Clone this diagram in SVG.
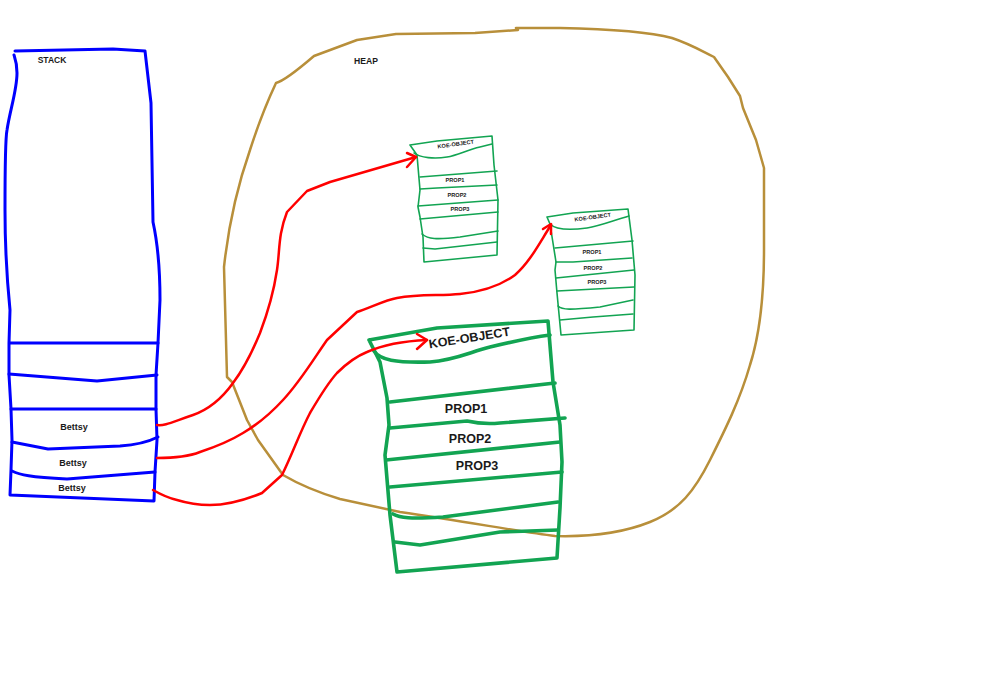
<svg xmlns="http://www.w3.org/2000/svg" width="995" height="673" viewBox="0 0 995 673">
<style>
  .heap{fill:none;stroke:#B88F3A;stroke-width:2.5;stroke-linejoin:round;stroke-linecap:round}
  .stk{fill:none;stroke:#0000FF;stroke-width:3;stroke-linejoin:round;stroke-linecap:round}
  .gs{fill:none;stroke:#12A452;stroke-width:1.6;stroke-linejoin:round;stroke-linecap:round}
  .gb{fill:none;stroke:#12A452;stroke-width:3.6;stroke-linejoin:round;stroke-linecap:round}
  .red{fill:none;stroke:#FF0000;stroke-width:2.5;stroke-linejoin:round;stroke-linecap:round}
  text{font-family:"Liberation Sans",Arial,sans-serif;font-weight:bold;fill:#1a1a1a;text-anchor:middle}
  .t9{font-size:9px}
  .ts{font-size:5.6px}
  .tb{font-size:12.5px}
</style>
<rect width="995" height="673" fill="#ffffff"/>

<g id="heap">
  <path class="heap" d="M276,83 C284,81 300,68 314,56 L357,40 L396,34 L475,33 L518,30 L516,28 L560,28 C610,29 650,32 672,38 C690,44 700,50 714,57 L728,77 L740,96 L743,108 L756,140 L764,168 L764,250 C764,300 758,340 750,365 C740,400 725,430 710,460 C695,490 680,510 650,522 C620,534 590,537 555,536 C520,532 470,522 400,512 L340,499 C320,493 300,485 283,475 L258,440 L247,420 L232,382 L227,377 L224,267 C228,230 236,190 250,150 C258,125 268,100 276,83 Z"/>
  <text class="t9" x="366" y="64" style="font-size:8.6px">HEAP</text>
</g>

<g id="stack">
  <path class="stk" d="M15,51 L113,49 L145,51 L151,103 L153,222 C158,245 160,270 160,300 L158,343 L156,375 L156,409 L157,440 L155,472 L154,501 L10,495 L11,470 L12,440 L11,409 L9,375 L9,343 L10,310 C7,280 5,250 5,210 C5,170 6,135 7,130 C10,110 17,90 17,73 C17,63 15,58 14,55"/>
  <path class="stk" d="M10,343 L158,343"/>
  <path class="stk" d="M9,374 L97,381 L157,375"/>
  <path class="stk" d="M11,409 L156,409"/>
  <path class="stk" d="M12,442 L48,449 L120,446 C135,445 150,441 158,437"/>
  <path class="stk" d="M12,471 C20,475 30,477 67,479 L155,472"/>
  <text class="t9" x="52" y="63" style="font-size:8.5px">STACK</text>
  <text class="t9" x="74" y="430">Bettsy</text>
  <text class="t9" x="73" y="466">Bettsy</text>
  <text class="t9" x="72" y="491">Bettsy</text>
</g>

<g id="obj1">
  <path class="gs" d="M410,145 L437,141 L492,136 L494,165 L498,200 L497,255 L424,262 L423,237 L420,217 L418,207 L420,190 L417,155 L410,145"/>
  <path class="gs" d="M414,153 C420,158 435,159 447,157 C458,155 467,150 480,147 L492,144"/>
  <path class="gs" d="M420,177 L497,171"/>
  <path class="gs" d="M420,189 L437,188 L497,185"/>
  <path class="gs" d="M418,206 L498,200"/>
  <path class="gs" d="M420,219 L498,212"/>
  <path class="gs" d="M422,234 C428,239 436,240 460,237 L498,231"/>
  <path class="gs" d="M423,248 L435,249 L497,242"/>
  <text class="ts" transform="translate(456,146) rotate(-8)">KOE-OBJECT</text>
  <text class="ts" x="455" y="182">PROP1</text>
  <text class="ts" x="457" y="197">PROP2</text>
  <text class="ts" x="460" y="211">PROP3</text>
</g>

<g id="obj2">
  <path class="gs" d="M547,217 L573,213 L628,209 L632,240 L635,275 L634,330 L561,335 L557,293 L555,270 L556,262 L553,243 L550,224 L547,217"/>
  <path class="gs" d="M550,224 C555,229 565,231 587,228 C600,226 612,221 629,216"/>
  <path class="gs" d="M555,248 L633,241"/>
  <path class="gs" d="M556,262 L573,262 L632,258"/>
  <path class="gs" d="M556,278 L634,270"/>
  <path class="gs" d="M557,291 L634,287"/>
  <path class="gs" d="M558,306 C562,310 570,310 600,307 L633,300"/>
  <path class="gs" d="M560,320 L593,317 L633,314"/>
  <text class="ts" transform="translate(593,219) rotate(-8)">KOE-OBJECT</text>
  <text class="ts" x="592" y="254">PROP1</text>
  <text class="ts" x="593" y="270">PROP2</text>
  <text class="ts" x="597" y="284">PROP3</text>
</g>

<g id="obj3">
  <path class="gb" d="M369,340 L437,328 L548,321 L553,382 L560,425 L562,462 L560,508 L557,558 L397,572 L390,515 L385,455 L389,425 L387,398 L380,362 L369,340"/>
  <path class="gb" d="M374,351 C380,360 395,363 430,362 C455,360 470,352 490,347 C515,341 535,337 550,335"/>
  <path class="gb" d="M390,402 L555,383"/>
  <path class="gb" d="M390,428 L467,421 C480,424 490,424 500,423 L565,418"/>
  <path class="gb" d="M386,460 L560,442"/>
  <path class="gb" d="M390,487 L562,472"/>
  <path class="gb" d="M393,514 C400,518 410,519 443,517 L558,502"/>
  <path class="gb" d="M395,542 L420,545 L500,532 L558,530"/>
  <text class="tb" transform="translate(470,342) rotate(-9)">KOE-OBJECT</text>
  <text class="tb" x="466" y="413">PROP1</text>
  <text class="tb" x="470" y="443">PROP2</text>
  <text class="tb" x="477" y="470">PROP3</text>
</g>

<g id="connectors">
  <path class="red" d="M157,425 C165,426 172,422 193,415 C210,409 223,397 233,383 C245,367 253,350 260,333 C268,312 274,290 277,270 C280,250 278,235 287,212 L307,191 L330,182 L416,157"/>
  <path class="red" d="M407,153 L416,157 L407,167"/>
  <path class="red" d="M157,458 C175,458 190,456 200,452 C215,447 230,441 243,433 C260,423 272,412 283,400 C300,382 315,357 327,340 L357,312 C370,308 385,300 397,298 C420,294 440,296 460,294 C480,292 500,286 515,275 C530,262 540,242 551,225"/>
  <path class="red" d="M543,229 L551,224 L551,234"/>
  <path class="red" d="M153,490 C160,494 168,498 177,500 C190,504 200,505 210,505 C225,505 240,502 262,493 L282,475 C292,455 300,432 310,413 C320,396 327,384 337,373 C347,363 357,356 367,352 C385,344 405,341 427,340"/>
  <path class="red" d="M417,334 L427,340 L417,349"/>
</g>
</svg>
